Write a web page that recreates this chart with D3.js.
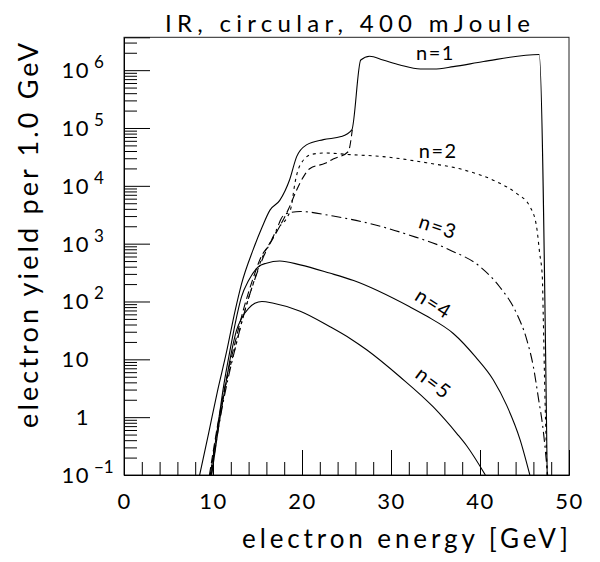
<!DOCTYPE html>
<html>
<head>
<meta charset="utf-8">
<script src="https://cdn.jsdelivr.net/npm/d3@7"></script>
<style>
html,body{margin:0;padding:0;background:#fff;}
svg{display:block;}
text{font-family:Lato,"Open Sans","DejaVu Sans",sans-serif;fill:#000;}
</style>
</head>
<body>
<svg id="chart" width="600" height="562"></svg>
<script>
// ---------------- data ----------------
const titleText = "IR, circular, 400 mJoule";
const xLabelText = "electron energy [GeV]";
const yLabelText = "electron yield per 1.0 GeV";

const xTickValues = [0, 10, 20, 30, 40, 50];
const xMinorValues = [2,4,6,8,12,14,16,18,22,24,26,28,32,34,36,38,42,44,46,48];
const yTickValues = [0.1, 1, 10, 100, 1e3, 1e4, 1e5, 1e6];
const yTickBase = ["10", "1", "10", "10", "10", "10", "10", "10"];
const yTickExp  = ["\u22121", "", "", "2", "3", "4", "5", "6"];

// n=1 (solid)
const n1Energy = [8.5, 9.5, 10.5, 11.5, 12.5, 13.2, 14.5, 15.5, 16.4, 17.5, 18.6, 19.4, 20.5, 22.4, 24.4, 25.6, 26.6, 27.6, 29.1, 31, 33.3, 34.8, 37, 40.4, 46.65, 47.55];
const n1Yield  = [0.1, 0.52, 2.8, 13, 71, 200, 780, 1900, 3800, 5600, 1.26e4, 3.2e4, 5.1e4, 6.3e4, 7.1e4, 9.3e4, 1.5e6, 1.74e6, 1.5e6, 1.23e6, 1.05e6, 1.05e6, 1.15e6, 1.41e6, 1.86e6, 0.1];
// n=2 (dotted)
const n2Energy = [9.7, 10.5, 11.5, 12.5, 13.5, 14.5, 15.5, 16.5, 17.5, 18.3, 18.8, 19.2, 19.8, 21.1, 22.6, 25, 29.1, 34, 38.1, 41.9, 44.1, 45.6, 46.35, 46.7, 47.0, 47.1, 47.3, 47.55];
const n2Yield  = [0.1, 0.63, 4, 16, 63, 200, 560, 1100, 2000, 2800, 4400, 1.1e4, 2.3e4, 3.5e4, 3.7e4, 3.5e4, 3.2e4, 2.5e4, 1.9e4, 1.17e4, 7400, 4400, 2000, 690, 270, 63, 2.2, 0.1];
// n=3 (dash-dot)
const n3Energy = [9.8, 10.6, 11.6, 12.6, 13.6, 14.6, 15.6, 16.6, 17.3, 17.6, 18.2, 19.8, 23.5, 28.8, 32.1, 36.6, 40, 42.2, 44.1, 45.25, 46, 46.55, 47.1, 47.6];
const n3Yield  = [0.1, 0.63, 4, 18, 71, 220, 560, 1170, 2000, 2600, 3300, 3600, 3000, 2000, 1400, 780, 400, 180, 63, 22, 7.4, 2.2, 0.6, 0.1];
// unlabeled dashed curve
const dashEnergy = [9.6, 10.5, 11.5, 12.5, 13.5, 14.5, 15.5, 16.2, 17.5, 18.5, 19.4, 20.3, 20.9, 22.6, 23.5, 25.2, 25.65];
const dashYield  = [0.1, 0.7, 4.5, 20, 80, 250, 630, 900, 2000, 4000, 8500, 1.55e4, 2e4, 2.45e4, 2.9e4, 3.9e4, 9.3e4];
// n=4 (solid)
const n4Energy = [9.7, 10.5, 11.2, 11.9, 12.5, 13.2, 14.0, 15.1, 16.0, 17.5, 19.8, 23.1, 25.8, 32.1, 34, 37, 39.5, 41.5, 43, 44.5, 45.6];
const n4Yield  = [0.1, 0.63, 3.5, 14, 42, 120, 230, 400, 460, 500, 430, 310, 230, 81, 56, 28, 11, 4.4, 1.6, 0.41, 0.1];
// n=5 (solid)
const n5Energy = [9.85, 10.6, 11.4, 12.1, 12.65, 13.2, 14, 14.7, 15.5, 16.8, 19.8, 23.1, 25.4, 27.3, 31, 34.75, 37.4, 38.5, 40.6];
const n5Yield  = [0.1, 0.63, 3.5, 14, 32, 51, 76, 93, 100, 93, 68, 37, 23, 14.5, 5, 1.5, 0.52, 0.32, 0.1];

const curveLabels = ["n=1", "n=2", "n=3", "n=4", "n=5"];

// ---------------- chart ----------------
const svg = d3.select("#chart");
const L = 124, R = 569, T = 37.3, B = 475;
const x = d3.scaleLinear().domain([0, 50]).range([L, R]);
const y = d3.scaleLog().domain([0.1, 3.7e6]).range([B, T]);

svg.append("defs").append("clipPath").attr("id", "clip")
  .append("rect").attr("x", L).attr("y", T).attr("width", R - L).attr("height", B - T);

// frame
svg.append("rect").attr("x", L).attr("y", T).attr("width", R - L).attr("height", B - T)
  .attr("fill", "none").attr("stroke", "#222").attr("stroke-width", 1);

// y minor ticks
const yMinor = [];
for (let e = -1; e <= 6; e++) for (let k = 2; k <= 9; k++) { const v = k * Math.pow(10, e); if (v <= 3.7e6) yMinor.push(v); }

const yMinorAxis = d3.axisLeft(y).tickValues(yMinor).tickSize(-13).tickFormat("");
svg.append("g").attr("transform", `translate(${L},0)`).call(yMinorAxis)
  .call(g => g.select(".domain").remove());
const yMajorAxis = d3.axisLeft(y).tickValues(yTickValues).tickSize(-26).tickFormat("");
svg.append("g").attr("transform", `translate(${L},0)`).call(yMajorAxis)
  .call(g => g.select(".domain").attr("stroke", "#000"));

// x ticks
const xMinorAxis = d3.axisBottom(x).tickValues(xMinorValues).tickSize(-13).tickFormat("");
svg.append("g").attr("transform", `translate(0,${B})`).call(xMinorAxis)
  .call(g => g.select(".domain").remove());
const xMajorAxis = d3.axisBottom(x).tickValues(xTickValues).tickSize(-25).tickPadding(18).tickFormat(d3.format("d"));
svg.append("g").attr("transform", `translate(0,${B})`).call(xMajorAxis)
  .call(g => g.selectAll("text").attr("font-size", 22).attr("font-family", null).attr("letter-spacing", 1.5))
  .call(g => g.select(".domain").attr("stroke", "#000"));
svg.selectAll(".tick line").attr("stroke", "#000");

// y tick labels with superscripts
const yl = svg.append("g");
yTickValues.forEach((v, i) => {
  const yy = y(v);
  yl.append("text").attr("x", 90).attr("y", yy + 8).attr("text-anchor", "end")
    .attr("font-size", 22).attr("letter-spacing", 1.5).text(yTickBase[i]);
  if (yTickExp[i]) {
    yl.append("text").attr("x", 94).attr("y", yy - 2).attr("text-anchor", "start")
      .attr("font-size", 17).text(yTickExp[i]);
  }
});

// curves
const line = d3.line().x(d => x(d[0])).y(d => y(d[1])).curve(d3.curveMonotoneX);
const series = [
  { e: n1Energy, v: n1Yield, dash: null },
  { e: n2Energy, v: n2Yield, dash: "3,4" },
  { e: n3Energy, v: n3Yield, dash: "10,4,2,4" },
  { e: dashEnergy, v: dashYield, dash: "8,4" },
  { e: n4Energy, v: n4Yield, dash: null },
  { e: n5Energy, v: n5Yield, dash: null }
];
const cg = svg.append("g").attr("clip-path", "url(#clip)");
series.forEach(s => {
  cg.append("path").datum(s.e.map((e, i) => [e, s.v[i]]))
    .attr("d", line).attr("fill", "none").attr("stroke", "#000").attr("stroke-width", 1.1)
    .attr("stroke-dasharray", s.dash);
});

// curve labels (positions in data coordinates)
const labelPos = [[35, 1.95e6, 0], [35.3, 4e4, 0], [35.3, 1.95e3, 18], [34.8, 92, 32], [34.8, 3.9, 37]];
labelPos.forEach((p, i) => {
  svg.append("text")
    .attr("transform", `translate(${x(p[0])},${y(p[1])}) rotate(${p[2]})`)
    .attr("text-anchor", "middle").attr("dy", "0.35em")
    .attr("font-size", 20).attr("letter-spacing", 1.5).text(curveLabels[i]);
});

// title & axis labels
svg.append("text").attr("x", 165).attr("y", 32).attr("font-size", 24)
  .attr("textLength", 365).attr("lengthAdjust", "spacing").text(titleText);
svg.append("text").attr("x", 242).attr("y", 548).attr("font-size", 26)
  .attr("textLength", 326).attr("lengthAdjust", "spacing").text(xLabelText);
svg.append("text").attr("transform", "translate(38,428) rotate(-90)").attr("font-size", 27)
  .attr("textLength", 385).attr("lengthAdjust", "spacing").text(yLabelText);
</script>
</body>
</html>
